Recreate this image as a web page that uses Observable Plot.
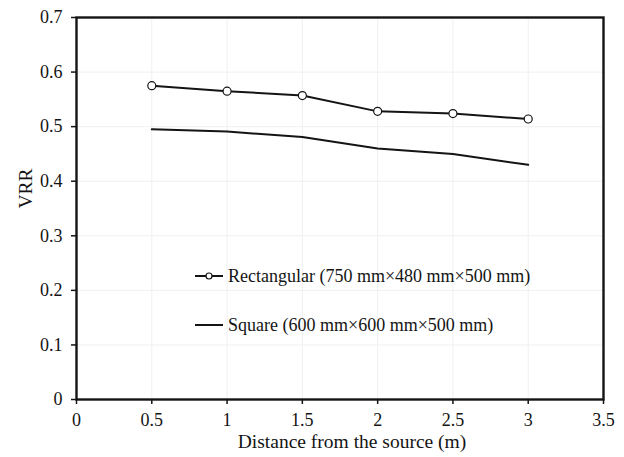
<!DOCTYPE html>
<html>
<head>
<meta charset="utf-8">
<script src="https://cdn.jsdelivr.net/npm/d3@7"></script>
<script src="https://cdn.jsdelivr.net/npm/@observablehq/plot@0.6"></script>
<style>
  html, body { margin: 0; padding: 0; background: #fff; }
  #wrap { position: relative; width: 624px; height: 457px; }
  #legend { position: absolute; left: 0; top: 0; }
</style>
</head>
<body>
<div id="wrap"></div>
<script>
const distances = [0.5, 1, 1.5, 2, 2.5, 3];
const rectangularVRR = [0.575, 0.565, 0.557, 0.528, 0.524, 0.514];
const squareVRR = [0.495, 0.491, 0.481, 0.460, 0.450, 0.430];
const seriesNames = ["Rectangular (750 mm×480 mm×500 mm)", "Square (600 mm×600 mm×500 mm)"];
const xTicks = [0, 0.5, 1, 1.5, 2, 2.5, 3, 3.5];
const yTicks = [0, 0.1, 0.2, 0.3, 0.4, 0.5, 0.6, 0.7];
const xLabel = "Distance from the source (m)";
const yLabel = "VRR";

const rectData = distances.map((d, i) => ({x: d, y: rectangularVRR[i]}));
const squareData = distances.map((d, i) => ({x: d, y: squareVRR[i]}));

const ink = "#141414";
const font = "'Liberation Serif', 'Times New Roman', serif";

const chart = Plot.plot({
  width: 624,
  height: 457,
  marginLeft: 76,
  marginRight: 21,
  marginTop: 17,
  marginBottom: 58,
  style: {fontFamily: font, fontSize: "18px", color: ink, background: "#fff"},
  x: {domain: [0, 3.5]},
  y: {domain: [0, 0.7]},
  marks: [
    Plot.ruleX(xTicks, {stroke: "#f0f0f0", strokeWidth: 1}),
    Plot.ruleY(yTicks, {stroke: "#f0f0f0", strokeWidth: 1}),
    Plot.line(squareData, {x: "x", y: "y", stroke: ink, strokeWidth: 2}),
    Plot.line(rectData, {x: "x", y: "y", stroke: ink, strokeWidth: 2}),
    Plot.dot(rectData, {x: "x", y: "y", r: 4, stroke: ink, strokeWidth: 1.2, fill: "#fff"}),
    Plot.axisX({ticks: xTicks, tickSize: 5, tickPadding: 9, tickFormat: d => String(d), label: null, stroke: ink, strokeWidth: 1.5, fontSize: 18}),
    Plot.axisY({ticks: yTicks, tickSize: 5, tickPadding: 9, tickFormat: d => String(d), label: null, stroke: ink, strokeWidth: 1.5, fontSize: 18}),
    Plot.frame({stroke: ink, strokeWidth: 2.4}),
    Plot.text([xLabel], {frameAnchor: "bottom", dy: 42, dx: 12, text: d => d, lineAnchor: "middle", fontSize: 19.5, fill: ink}),
    Plot.text([yLabel], {frameAnchor: "left", dx: -51, text: d => d, rotate: -90, lineAnchor: "middle", fontSize: 19.5, fill: ink})
  ]
});

const wrap = document.getElementById("wrap");
wrap.appendChild(chart);

// Legend overlay
const ns = "http://www.w3.org/2000/svg";
const leg = document.createElementNS(ns, "svg");
leg.setAttribute("id", "legend");
leg.setAttribute("width", 624);
leg.setAttribute("height", 457);
const rows = [
  {name: seriesNames[0], marker: true, y: 276},
  {name: seriesNames[1], marker: false, y: 325}
];
for (const r of rows) {
  const ln = document.createElementNS(ns, "line");
  ln.setAttribute("x1", 195); ln.setAttribute("x2", 223);
  ln.setAttribute("y1", r.y); ln.setAttribute("y2", r.y);
  ln.setAttribute("stroke", ink); ln.setAttribute("stroke-width", 2);
  leg.appendChild(ln);
  if (r.marker) {
    const c = document.createElementNS(ns, "circle");
    c.setAttribute("cx", 209); c.setAttribute("cy", r.y); c.setAttribute("r", 3);
    c.setAttribute("fill", "#fff"); c.setAttribute("stroke", ink); c.setAttribute("stroke-width", 1.2);
    leg.appendChild(c);
  }
  const t = document.createElementNS(ns, "text");
  t.setAttribute("x", 228); t.setAttribute("y", r.y);
  t.setAttribute("dominant-baseline", "central");
  t.setAttribute("font-family", font);
  t.setAttribute("font-size", 18);
  t.setAttribute("fill", ink);
  t.textContent = r.name;
  leg.appendChild(t);
}
wrap.appendChild(leg);
</script>
</body>
</html>
